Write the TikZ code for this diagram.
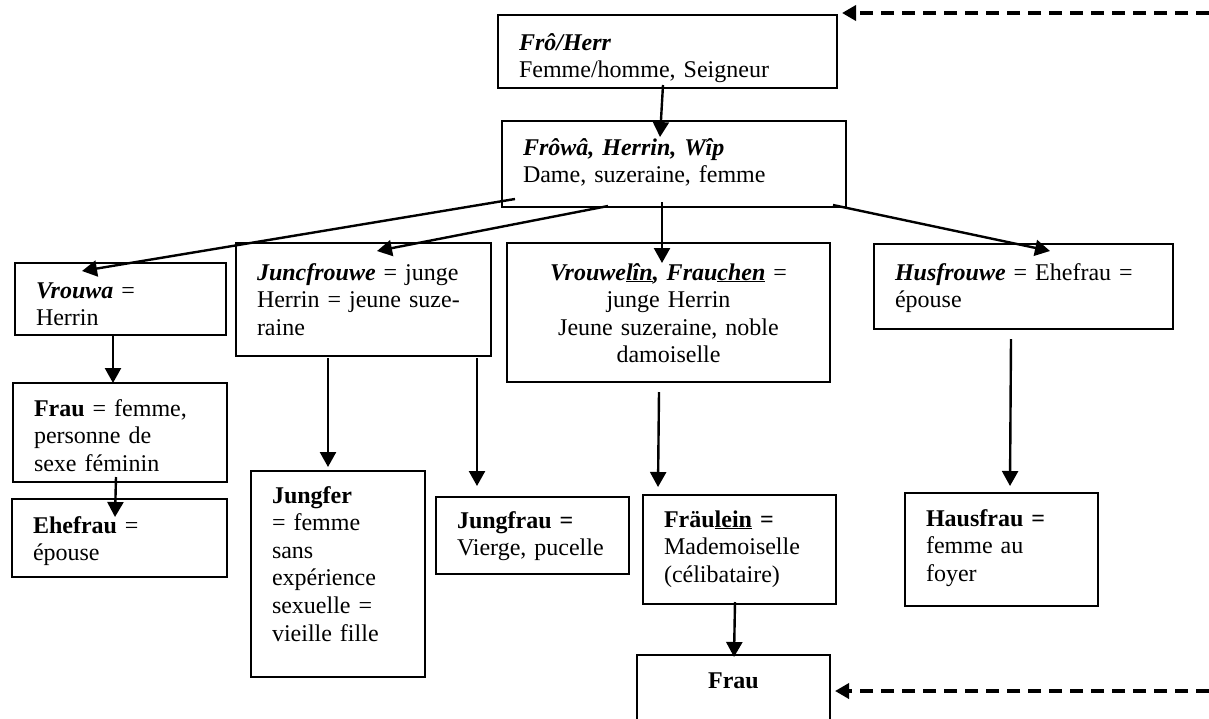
\documentclass[tikz,border=0pt]{standalone}
\usepackage{fontspec}
\setmainfont{Liberation Serif}
\usetikzlibrary{arrows.meta}

\tikzset{
  box/.style 2 args={draw, line width=1.8pt, anchor=north west, outer sep=0pt,
    align=left, inner xsep=21pt, inner ysep=0pt,
    text width=#1-42pt, text height=34pt, text depth=#2-34pt,
    font={\fontsize{24}{27.6}\selectfont}},
  link/.style={line width=2.4pt, -{Triangle[length=15pt,width=16pt]}},
  back/.style={line width=3.6pt, dash pattern=on 13pt off 8pt,
    -{Triangle[length=14pt,width=15pt]}}
}

\begin{document}
\begin{tikzpicture}[x=1pt,y=-1pt]
    \useasboundingbox (0,0) rectangle (1209,718);
    \clip (0,0) rectangle (1209,718);

    % Top of the tree
    \node[box={339}{73}, text height=35pt, text depth=38pt] (herr) at (498,15)
        {\textbf{\textit{Frô/Herr}}\\Femme/homme, Seigneur};
    \node[box={344}{86}] (frowa) at (502,121)
        {\textbf{\textit{Frôwâ, Herrin, Wîp}}\\Dame, suzeraine, femme};

    % Second row
    \node[box={211}{72}, text height=35pt, text depth=37pt] (vrouwa) at (15,263)
        {\textbf{\textit{Vrouwa}} =\\Herrin};
    \node[box={255}{113}, text height=37pt, text depth=76pt] (junc) at (236,243)
        {\textbf{\textit{Juncfrouwe}} = junge\\Herrin = jeune suze-\\raine};
    \node[box={323}{139}, align=center, text height=37pt, text depth=102pt] (vrouwelin) at (507,243)
        {\textbf{\textit{Vrouwe\underline{lîn}, Frau\underline{chen}}} =\\junge Herrin\\Jeune suzeraine, noble\\damoiselle};
    \node[box={299}{85}, text height=36pt, text depth=49pt] (husfr) at (874,244)
        {\textbf{\textit{Husfrouwe}} = Ehefrau =\\épouse};

    % Third row
    \node[box={214}{99}, text height=33pt, text depth=66pt] (frau) at (13,383)
        {\textbf{Frau} = femme,\\personne de\\sexe féminin};
    \node[box={215}{78}] (ehefrau) at (12,499)
        {\textbf{Ehefrau} =\\épouse};
    \node[box={174}{206}, text height=32pt, text depth=174pt] (jungfer) at (251,471)
        {\textbf{Jungfer}\\= femme\\sans\\expérience\\sexuelle =\\vieille fille};
    \node[box={193}{77}, text height=31pt, text depth=46pt] (jungfrau) at (436,497)
        {\textbf{Jungfrau =}\\Vierge, pucelle};
    \node[box={193}{109}, text height=32pt, text depth=77pt] (fraulein) at (643,495)
        {\textbf{Fräu\underline{lein} =}\\Mademoiselle\\(célibataire)};
    \node[box={193}{113}, text height=33pt, text depth=80pt] (hausfrau) at (905,493)
        {\textbf{Hausfrau =}\\femme au\\foyer};

    % Bottom
    \node[box={193}{90}, align=center, text height=33pt, text depth=57pt] (frau2) at (637,655)
        {\textbf{Frau}};

    % Arrows
    \draw[link] ([shift={(165,70)}]herr.north west) -- ([shift={(158,16)}]frowa.north west);
    \draw[link] ([shift={(13,78)}]frowa.north west) -- ([shift={(67,8)}]vrouwa.north west);
    \draw[link] ([shift={(106,85)}]frowa.north west) -- ([shift={(141,8)}]junc.north west);
    \draw[link] ([shift={(160,81)}]frowa.north west) -- ([shift={(155,20)}]vrouwelin.north west);
    \draw[link] ([shift={(331,84)}]frowa.north west) -- ([shift={(176,7)}]husfr.north west);
    \draw[link] ([shift={(98,72)}]vrouwa.north west) -- ([shift={(100,0)}]frau.north west);
    \draw[link] ([shift={(103,94)}]frau.north west) -- ([shift={(103,18)}]ehefrau.north west);
    \draw[link] ([shift={(92,115)}]junc.north west) -- ([shift={(77,-4)}]jungfer.north west);
    \draw[link] ([shift={(241,115)}]junc.north west) -- ([shift={(41,-11)}]jungfrau.north west);
    \draw[link] ([shift={(152,149)}]vrouwelin.north west) -- ([shift={(15,-8)}]fraulein.north west);
    \draw[link] ([shift={(137,95)}]husfr.north west) -- ([shift={(105,-7)}]hausfrau.north west);
    \draw[link] ([shift={(92,107)}]fraulein.north west) -- ([shift={(97,2)}]frau2.north west);

    % Dashed arrows coming in from the right
    \coordinate (topin) at (1209,13);
    \coordinate (botin) at (1209,691);
    \draw[back] (topin) -- ([shift={(5,-2)}]herr.north east);
    \draw[back] (botin) -- ([shift={(5,36)}]frau2.north east);
\end{tikzpicture}
\end{document}
